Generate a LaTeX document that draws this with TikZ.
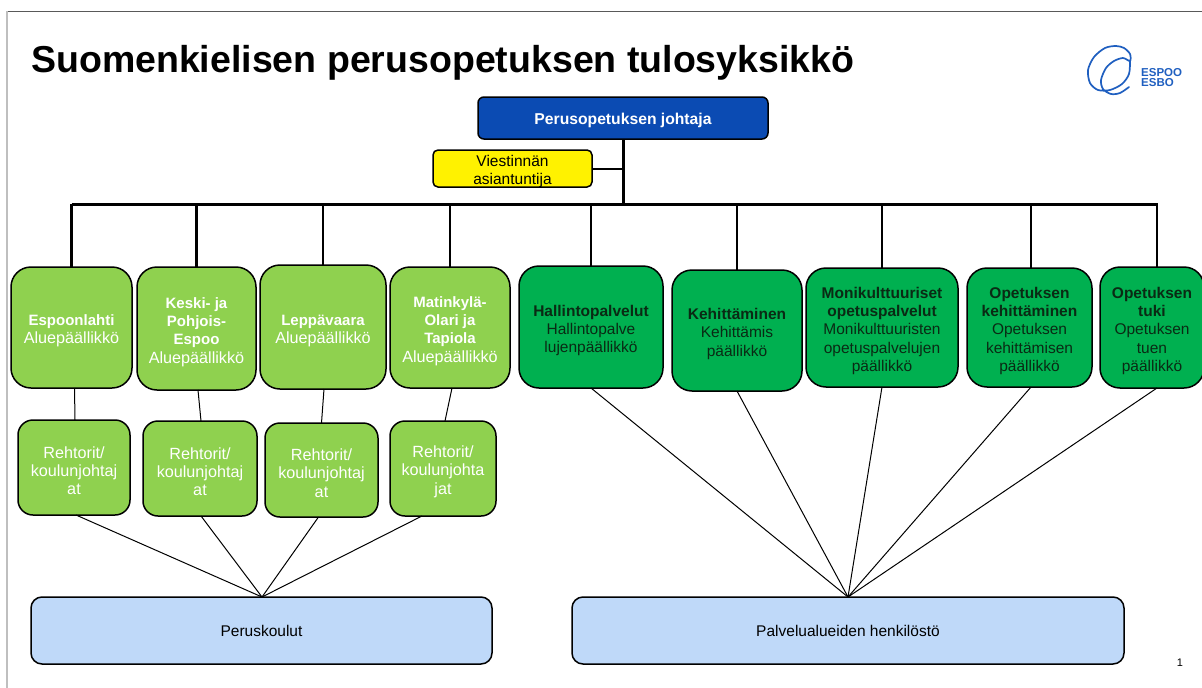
\documentclass[tikz,border=0pt]{standalone}
\usepackage{fontspec}
\setmainfont{Liberation Sans}
\definecolor{lgreen}{HTML}{8FD14F}
\definecolor{dgreen}{HTML}{00B050}
\definecolor{topblue}{HTML}{0B4BB3}
\definecolor{pale}{HTML}{BFD9F9}
\definecolor{logoblue}{HTML}{1F5FC0}
\definecolor{darktxt}{HTML}{0A2A14}
\newcommand{\bodyfont}{\fontsize{15.5}{18.3}\selectfont}
\newcommand{\leftfont}{\fontsize{16.2}{18.3}\selectfont}
\newcommand{\areahead}[1]{{\fontsize{15}{18.3}\selectfont\bfseries #1}}
\newcommand{\lowered}[1]{\raisebox{-6.7pt}[0pt][0pt]{#1}}
\newcommand{\firstline}{\rule{0pt}{18pt}}
\tikzset{
  box/.style={draw=black,line width=1.5pt,inner sep=0pt,outer sep=0pt,align=center,font=\bodyfont},
  area/.style={box,font=\leftfont,fill=lgreen,text=white,rounded corners=20pt},
  school/.style={box,font=\leftfont,fill=lgreen,text=white,rounded corners=15pt},
  service/.style={box,fill=dgreen,text=darktxt,rounded corners=20pt},
  pool/.style={box,fill=pale,text=black,rounded corners=11pt},
  bus/.style={line width=3pt,black},
  drop/.style={line width=2.5pt,black},
  thin/.style={line width=1pt,black},
}
\begin{document}
\begin{tikzpicture}[x=1pt,y=-1pt]
\useasboundingbox (0,0) rectangle (1202,688);
\fill[white] (0,0) rectangle (1202,688);
\draw[line width=1pt,black!65] (6,11) -- (1202,11);
\draw[line width=2pt,black!25] (6.5,11) -- (6.5,688);
\node[anchor=base west,inner sep=0pt,font=\fontsize{37.5}{44}\selectfont\bfseries] (title) at (31,72) {Suomenkielisen perusopetuksen tulosyksikkö};
% logo
\draw[logoblue,line width=1.7pt,line cap=round] plot[smooth] coordinates {(1129,87) (1120,93) (1111,94) (1103,89) (1101,80) (1106,68) (1114,61) (1123,58) (1130,61) (1130,54) (1124,48) (1116,46) (1105,48) (1094,57) (1088,70) (1090,83) (1098,90) (1110,90) (1122,84) (1129,74) (1130,61)};
\node[anchor=base west,inner sep=0pt,text=logoblue,font=\fontsize{11.5}{12}\selectfont\bfseries] (espoo) at (1141,76) {ESPOO};
\node[anchor=base west,inner sep=0pt,text=logoblue,font=\fontsize{11.5}{12}\selectfont\bfseries] (esbo) at (1141,86) {ESBO};
% top
\node[box,fill=topblue,text=white,rounded corners=6pt,minimum width=290pt,minimum height=42pt,font=\fontsize{15.7}{18.3}\selectfont\bfseries] (top) at (623,118) {\rule{0pt}{15.5pt}Perusopetuksen johtaja};
\node[box,fill=yellow,text=black,rounded corners=5pt,minimum width=159pt,minimum height=37pt] (yel) at (512.5,168.5) {\lowered{Viestinnän}\\\lowered{asiantuntija}};
% areas
\node[area,minimum width=121pt,minimum height=121pt] (esp) at (71.5,327.5) {\firstline\areahead{Espoonlahti}\\Aluepäällikkö};
\node[area,minimum width=119pt,minimum height=123pt] (kes) at (196.5,328.5) {\firstline\areahead{Keski- ja}\\\areahead{Pohjois-}\\\areahead{Espoo}\\Aluepäällikkö};
\node[area,minimum width=126pt,minimum height=124pt] (lep) at (323,327) {\firstline\areahead{Leppävaara}\\Aluepäällikkö};
\node[area,minimum width=120pt,minimum height=121pt] (mat) at (450,327.5) {\firstline\areahead{Matinkylä-}\\\areahead{Olari ja}\\\areahead{Tapiola}\\Aluepäällikkö};
% schools
\node[school,minimum width=112pt,minimum height=95pt] (r1) at (74,467.5) {\firstline Rehtorit/\\koulunjohtaj\\at};
\node[school,minimum width=114pt,minimum height=95pt] (r2) at (200,468.5) {\firstline Rehtorit/\\koulunjohtaj\\at};
\node[school,minimum width=113pt,minimum height=94pt] (r3) at (321.5,470) {\firstline Rehtorit/\\koulunjohtaj\\at};
\node[school,minimum width=106pt,minimum height=95pt] (r4) at (443,468.5) {\firstline Rehtorit/\\koulunjohta\\jat};
% services
\node[service,minimum width=144pt,minimum height=122pt] (hal) at (591,327) {\firstline\textbf{Hallintopalvelut}\\Hallintopalve\\lujenpäällikkö};
\node[service,minimum width=130pt,minimum height=121pt] (keh) at (737,330.5) {\firstline\textbf{Kehittäminen}\\Kehittämis\\päällikkö};
\node[service,minimum width=152pt,minimum height=119pt] (mon) at (882,327.5) {\firstline\textbf{Monikulttuuriset}\\\textbf{opetuspalvelut}\\Monikulttuuristen\\opetuspalvelujen\\päällikkö};
\node[service,minimum width=125pt,minimum height=119pt] (ope) at (1029.5,327.5) {\firstline\textbf{Opetuksen}\\\textbf{kehittäminen}\\Opetuksen\\kehittämisen\\päällikkö};
\node[service,minimum width=104pt,minimum height=121pt] (tuk) at (1152,327.5) {\firstline\textbf{Opetuksen}\\\textbf{tuki}\\Opetuksen\\tuen\\päällikkö};
% pools
\node[pool,minimum width=461pt,minimum height=67pt] (pk) at (261.5,630.5) {Peruskoulut};
\node[pool,minimum width=552pt,minimum height=67pt] (pal) at (848,630.5) {Palvelualueiden henkilöstö};
\node[inner sep=0pt,font=\fontsize{11}{12}\selectfont] (pageno) at (1180,663) {1};
% connectors
\coordinate (busL) at (71.5,204);
\coordinate (busR) at (1158,204);
\coordinate (busC) at (623,204);
\draw[bus,line cap=square] (busL) -- (busR);
\draw[bus] (top.south) -- (busC);
\draw[line width=2pt] (yel.east) -- (yel.east -| top.south);
\foreach \n in {esp,kes,lep,mat,hal,keh,mon}{
  \draw[drop] (\n.north) -- (\n.north |- busC);
}
\draw[drop] ([xshift=1.5pt]ope.north) -- ([xshift=1.5pt]ope.north |- busC);
\draw[drop] ([xshift=5pt]tuk.north) -- ([xshift=5pt]tuk.north |- busC);
\draw[thin] ([xshift=3pt]esp.south) -- ([xshift=1pt]r1.north);
\draw[thin] ([xshift=1.5pt]kes.south) -- ([xshift=1pt]r2.north);
\draw[thin] ([xshift=1pt]lep.south) -- (r3.north);
\draw[thin] ([xshift=2pt]mat.south) -- ([xshift=2pt]r4.north);
\coordinate (hubL) at (262,597);
\coordinate (hubR) at (848,597);
\draw[thin] ([xshift=2pt]r1.south) -- (hubL);
\draw[thin] ([xshift=1pt]r2.south) -- (hubL);
\draw[thin] ([xshift=-3pt]r3.south) -- (hubL);
\draw[thin] ([xshift=-21pt]r4.south) -- (hubL);
\draw[thin] (hal.south) -- (hubR);
\draw[thin] (keh.south) -- (hubR);
\draw[thin] (mon.south) -- (hubR);
\draw[thin] ([xshift=1.5pt]ope.south) -- (hubR);
\draw[thin] ([xshift=5pt]tuk.south) -- (hubR);
\end{tikzpicture}
\end{document}
